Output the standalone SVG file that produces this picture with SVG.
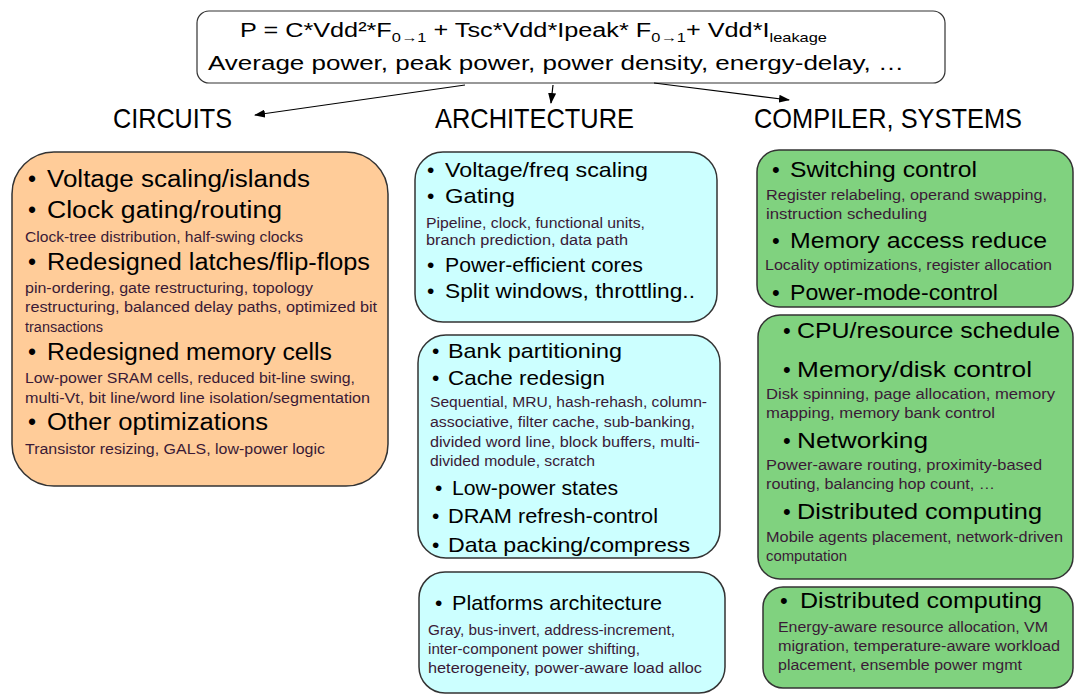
<svg xmlns="http://www.w3.org/2000/svg" width="1074" height="694" viewBox="0 0 1074 694">
<defs>
<marker id="ah" markerUnits="userSpaceOnUse" markerWidth="11" markerHeight="8" refX="10" refY="4" orient="auto">
<path d="M0,0 L11,4 L0,8 z" fill="#000"/>
</marker>
<style>
text{font-family:"Liberation Sans",Arial,sans-serif;fill:#000}
.box{stroke:#333;stroke-width:1.5}
.orange{fill:#FFCC99}
.cyan{fill:#CCFFFF}
.green{fill:#80D27F}
.top{fill:#fff;stroke:#333;stroke-width:1.2}
.h{font-size:28px}
.mL{font-size:23px}
.mM{font-size:21px}
.mR{font-size:22px}
.s{font-size:14px;fill:#3a1a36}
.f{font-size:20px}
.a{stroke:#000;stroke-width:1.2;fill:none;marker-end:url(#ah)}
</style>
</defs>
<rect width="1074" height="694" fill="#fff"/>

<g id="formula">
<rect class="top" x="197" y="11" width="748" height="72" rx="12"/>
<text class="f" x="240" y="37" textLength="587" lengthAdjust="spacingAndGlyphs">P = C*Vdd²*F<tspan font-size="13" dy="5">0→1</tspan><tspan dy="-5"> + Tsc*Vdd*Ipeak* F</tspan><tspan font-size="13" dy="5">0→1</tspan><tspan dy="-5">+ Vdd*I</tspan><tspan font-size="13" dy="5">leakage</tspan></text>
<text class="f" x="208" y="70" textLength="696" lengthAdjust="spacingAndGlyphs">Average power, peak power, power density, energy-delay, …</text>
</g>

<g id="connectors">
<line class="a" x1="465" y1="85" x2="255" y2="115"/>
<line class="a" x1="553" y1="85" x2="551" y2="103"/>
<line class="a" x1="654" y1="83" x2="789" y2="100"/>
</g>

<g id="headings">
<text class="h" x="113" y="128" textLength="119" lengthAdjust="spacingAndGlyphs">CIRCUITS</text>
<text class="h" x="435" y="128" textLength="199" lengthAdjust="spacingAndGlyphs">ARCHITECTURE</text>
<text class="h" x="754" y="128" textLength="268" lengthAdjust="spacingAndGlyphs">COMPILER, SYSTEMS</text>
</g>

<g id="circuits">
<rect class="box orange" x="12" y="152" width="376" height="334" rx="42"/>
<text class="mL" x="28" y="187">•</text><text class="mL" x="47" y="187" textLength="263" lengthAdjust="spacingAndGlyphs">Voltage scaling/islands</text>
<text class="mL" x="28" y="218">•</text><text class="mL" x="47" y="218" textLength="235" lengthAdjust="spacingAndGlyphs">Clock gating/routing</text>
<text class="s" x="25" y="242" textLength="278" lengthAdjust="spacingAndGlyphs">Clock-tree distribution, half-swing clocks</text>
<text class="mL" x="28" y="270">•</text><text class="mL" x="47" y="270" textLength="323" lengthAdjust="spacingAndGlyphs">Redesigned latches/flip-flops</text>
<text class="s" x="25" y="293" textLength="288" lengthAdjust="spacingAndGlyphs">pin-ordering, gate restructuring, topology</text>
<text class="s" x="25" y="312" textLength="352" lengthAdjust="spacingAndGlyphs">restructuring, balanced delay paths, optimized bit</text>
<text class="s" x="25" y="332" textLength="78" lengthAdjust="spacingAndGlyphs">transactions</text>
<text class="mL" x="28" y="360">•</text><text class="mL" x="47" y="360" textLength="285" lengthAdjust="spacingAndGlyphs">Redesigned memory cells</text>
<text class="s" x="25" y="383" textLength="330" lengthAdjust="spacingAndGlyphs">Low-power SRAM cells, reduced bit-line swing,</text>
<text class="s" x="25" y="403" textLength="345" lengthAdjust="spacingAndGlyphs">multi-Vt, bit line/word line isolation/segmentation</text>
<text class="mL" x="28" y="430">•</text><text class="mL" x="47" y="430" textLength="221" lengthAdjust="spacingAndGlyphs">Other optimizations</text>
<text class="s" x="25" y="454" textLength="300" lengthAdjust="spacingAndGlyphs">Transistor resizing, GALS, low-power logic</text>
</g>

<g id="arch-core">
<rect class="box cyan" x="415" y="152" width="302" height="170" rx="28"/>
<text class="mM" x="427" y="177">•</text><text class="mM" x="445" y="177" textLength="203" lengthAdjust="spacingAndGlyphs">Voltage/freq scaling</text>
<text class="mM" x="427" y="203">•</text><text class="mM" x="445" y="203" textLength="70" lengthAdjust="spacingAndGlyphs">Gating</text>
<text class="s" x="426" y="228" textLength="219" lengthAdjust="spacingAndGlyphs">Pipeline, clock, functional units,</text>
<text class="s" x="426" y="245" textLength="202" lengthAdjust="spacingAndGlyphs">branch prediction, data path</text>
<text class="mM" x="427" y="272">•</text><text class="mM" x="445" y="272" textLength="198" lengthAdjust="spacingAndGlyphs">Power-efficient cores</text>
<text class="mM" x="427" y="298">•</text><text class="mM" x="445" y="298" textLength="250" lengthAdjust="spacingAndGlyphs">Split windows, throttling..</text>
</g>

<g id="arch-memory">
<rect class="box cyan" x="418" y="335" width="302" height="223" rx="28"/>
<text class="mM" x="432" y="358">•</text><text class="mM" x="448" y="358" textLength="174" lengthAdjust="spacingAndGlyphs">Bank partitioning</text>
<text class="mM" x="432" y="385">•</text><text class="mM" x="448" y="385" textLength="157" lengthAdjust="spacingAndGlyphs">Cache redesign</text>
<text class="s" x="430" y="407" textLength="277" lengthAdjust="spacingAndGlyphs">Sequential, MRU, hash-rehash, column-</text>
<text class="s" x="430" y="427" textLength="265" lengthAdjust="spacingAndGlyphs">associative, filter cache, sub-banking,</text>
<text class="s" x="430" y="447" textLength="270" lengthAdjust="spacingAndGlyphs">divided word line, block buffers, multi-</text>
<text class="s" x="430" y="466" textLength="165" lengthAdjust="spacingAndGlyphs">divided module, scratch</text>
<text class="mM" x="435" y="495">•</text><text class="mM" x="452" y="495" textLength="166" lengthAdjust="spacingAndGlyphs">Low-power states</text>
<text class="mM" x="432" y="523">•</text><text class="mM" x="448" y="523" textLength="210" lengthAdjust="spacingAndGlyphs">DRAM refresh-control</text>
<text class="mM" x="432" y="552">•</text><text class="mM" x="448" y="552" textLength="242" lengthAdjust="spacingAndGlyphs">Data packing/compress</text>
</g>

<g id="arch-platform">
<rect class="box cyan" x="419" y="572" width="306" height="121" rx="26"/>
<text class="mM" x="435" y="610">•</text><text class="mM" x="452" y="610" textLength="210" lengthAdjust="spacingAndGlyphs">Platforms architecture</text>
<text class="s" x="428" y="635" textLength="247" lengthAdjust="spacingAndGlyphs">Gray, bus-invert, address-increment,</text>
<text class="s" x="428" y="654" textLength="212" lengthAdjust="spacingAndGlyphs">inter-component power shifting,</text>
<text class="s" x="428" y="673" textLength="274" lengthAdjust="spacingAndGlyphs">heterogeneity, power-aware load alloc</text>
</g>

<g id="compiler">
<rect class="box green" x="757" y="150" width="316" height="157" rx="22"/>
<text class="mR" x="772" y="177">•</text><text class="mR" x="790" y="177" textLength="187" lengthAdjust="spacingAndGlyphs">Switching control</text>
<text class="s" x="766" y="200" textLength="281" lengthAdjust="spacingAndGlyphs">Register relabeling, operand swapping,</text>
<text class="s" x="766" y="219" textLength="161" lengthAdjust="spacingAndGlyphs">instruction scheduling</text>
<text class="mR" x="772" y="248">•</text><text class="mR" x="790" y="248" textLength="257" lengthAdjust="spacingAndGlyphs">Memory access reduce</text>
<text class="s" x="765" y="270" textLength="287" lengthAdjust="spacingAndGlyphs">Locality optimizations, register allocation</text>
<text class="mR" x="772" y="300">•</text><text class="mR" x="790" y="300" textLength="208" lengthAdjust="spacingAndGlyphs">Power-mode-control</text>
</g>

<g id="systems">
<rect class="box green" x="758" y="315" width="315" height="264" rx="22"/>
<text class="mR" x="783" y="338">•</text><text class="mR" x="797" y="338" textLength="263" lengthAdjust="spacingAndGlyphs">CPU/resource schedule</text>
<text class="mR" x="783" y="377">•</text><text class="mR" x="797" y="377" textLength="235" lengthAdjust="spacingAndGlyphs">Memory/disk control</text>
<text class="s" x="766" y="399" textLength="289" lengthAdjust="spacingAndGlyphs">Disk spinning, page allocation, memory</text>
<text class="s" x="766" y="418" textLength="229" lengthAdjust="spacingAndGlyphs">mapping, memory bank control</text>
<text class="mR" x="783" y="448">•</text><text class="mR" x="797" y="448" textLength="131" lengthAdjust="spacingAndGlyphs">Networking</text>
<text class="s" x="766" y="470" textLength="276" lengthAdjust="spacingAndGlyphs">Power-aware routing, proximity-based</text>
<text class="s" x="766" y="489" textLength="229" lengthAdjust="spacingAndGlyphs">routing, balancing hop count, …</text>
<text class="mR" x="783" y="519">•</text><text class="mR" x="797" y="519" textLength="245" lengthAdjust="spacingAndGlyphs">Distributed computing</text>
<text class="s" x="766" y="542" textLength="297" lengthAdjust="spacingAndGlyphs">Mobile agents placement, network-driven</text>
<text class="s" x="766" y="561" textLength="81" lengthAdjust="spacingAndGlyphs">computation</text>
</g>

<g id="datacenter">
<rect class="box green" x="763" y="587" width="310" height="101" rx="20"/>
<text class="mR" x="780" y="608">•</text><text class="mR" x="800" y="608" textLength="242" lengthAdjust="spacingAndGlyphs">Distributed computing</text>
<text class="s" x="778" y="632" textLength="270" lengthAdjust="spacingAndGlyphs">Energy-aware resource allocation, VM</text>
<text class="s" x="778" y="651" textLength="282" lengthAdjust="spacingAndGlyphs">migration, temperature-aware workload</text>
<text class="s" x="778" y="670" textLength="244" lengthAdjust="spacingAndGlyphs">placement, ensemble power mgmt</text>
</g>
</svg>
